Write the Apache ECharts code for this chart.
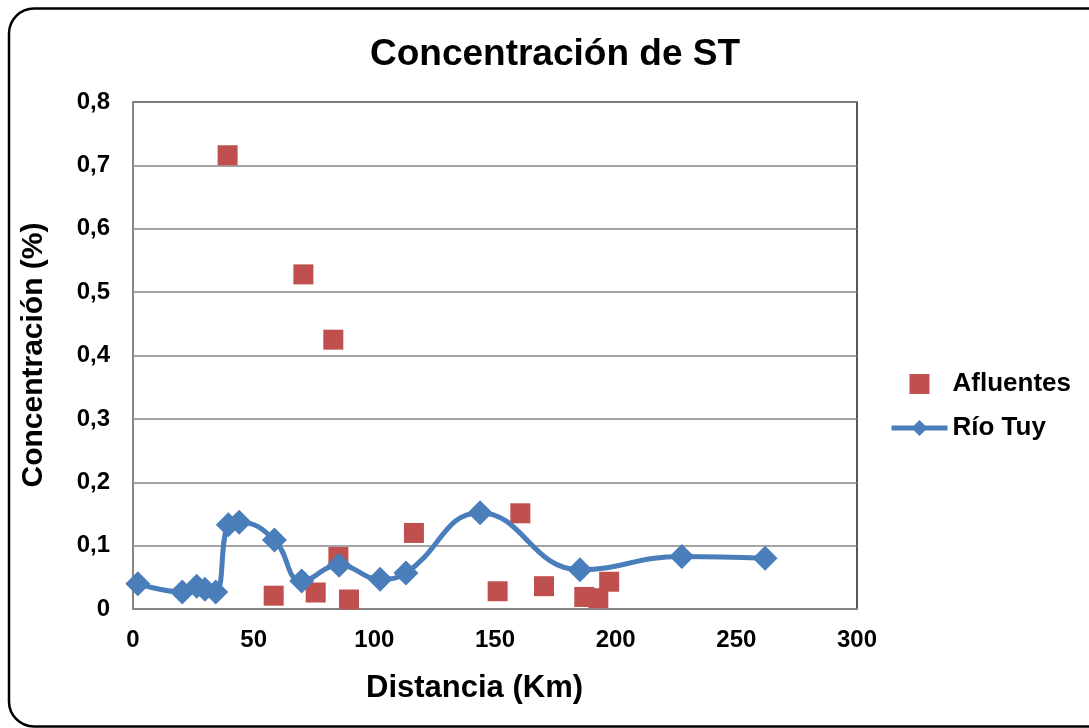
<!DOCTYPE html>
<html>
<head>
<meta charset="utf-8">
<script src="https://cdn.jsdelivr.net/npm/echarts@6/dist/echarts.min.js"></script>
<style>
  html, body { margin: 0; padding: 0; background: #fff; }
  #main { width: 1089px; height: 728px; }
</style>
</head>
<body>
<div id="main"></div>
<script>
// Río Tuy (main river) - distance in km, concentration in %
var tuyKm = [2, 20.4, 26.4, 29.8, 34.3, 39.5, 44, 58.6, 69.9, 85.4, 102.4, 113.1, 143.8, 185.2, 227.4, 261.9];
var tuyConc = [0.040, 0.027, 0.036, 0.031, 0.027, 0.133, 0.137, 0.109, 0.044, 0.069, 0.047, 0.057, 0.152, 0.062, 0.083, 0.080];

// tributaries
var aflKm = [39.2, 70.6, 83, 58.3, 75.7, 85.1, 89.5, 116.4, 151.1, 160.5, 170.3, 187, 192.8, 197.3];
var aflConc = [0.716, 0.528, 0.425, 0.021, 0.026, 0.082, 0.015, 0.120, 0.028, 0.151, 0.036, 0.019, 0.017, 0.043];

var yTicks = [0, 0.1, 0.2, 0.3, 0.4, 0.5, 0.6, 0.7, 0.8];

var myChart = echarts.init(document.getElementById('main'));
var font = '"Liberation Sans", Arial, sans-serif';

function pairs(xs, ys) {
  return xs.map(function (x, i) { return [x, ys[i]]; });
}

var option = {
  animation: false,
  backgroundColor: '#fff',
  title: {
    text: 'Concentración de ST',
    left: 550,
    top: 31,
    textAlign: 'center',
    textStyle: { fontFamily: font, fontSize: 37, fontWeight: 'bold', color: '#000' }
  },
  legend: {
    orient: 'vertical',
    left: 884,
    top: 366,
    itemWidth: 56,
    itemHeight: 20,
    itemGap: 18,
    textStyle: { fontFamily: font, fontSize: 26, fontWeight: 'bold', color: '#000' },
    data: [
      { name: 'Afluentes', icon: 'path://M0,0h10v10h-10z' },
      { name: 'Río Tuy', lineStyle: { width: 5 } }
    ]
  },
  grid: { left: 133, top: 102, right: 232, bottom: 119, show: true, borderColor: '#222', borderWidth: 1.5 },
  xAxis: {
    type: 'value',
    min: 0, max: 300, interval: 50,
    axisLine: { show: true, lineStyle: { color: '#868686', width: 2 } },
    axisTick: { show: false },
    splitLine: { show: false },
    axisLabel: { margin: 19, fontFamily: font, fontSize: 24, fontWeight: 'bold', color: '#000' }
  },
  yAxis: {
    type: 'value',
    min: 0, max: 0.8, interval: 0.1,
    axisLine: { show: true, lineStyle: { color: '#868686', width: 2 } },
    axisTick: { show: false },
    splitLine: { show: true, lineStyle: { color: '#868686', width: 1.5 } },
    axisLabel: {
      margin: 23, fontFamily: font, fontSize: 24, fontWeight: 'bold', color: '#000',
      formatter: function (v) {
        var t = yTicks.find(function (k) { return Math.abs(k - v) < 1e-9; });
        return t === 0 ? '0' : String(+v.toFixed(1)).replace('.', ',');
      }
    }
  },
  graphic: [
    {
      type: 'rect', silent: true, z: -1,
      shape: { x: 9, y: 8.5, width: 1120, height: 718, r: 25 },
      style: { fill: null, stroke: '#000', lineWidth: 2.5 }
    },
    {
      type: 'text', left: 366, top: 673,
      style: { text: 'Distancia (Km)', font: 'bold 31px ' + font, fill: '#000' }
    },
    {
      type: 'text', x: 34, y: 355, rotation: Math.PI / 2,
      style: { text: 'Concentración (%)', font: 'bold 30px ' + font, fill: '#000', align: 'center', verticalAlign: 'middle' }
    }
  ],
  series: [
    {
      name: 'Afluentes',
      type: 'scatter',
      symbol: 'rect',
      symbolSize: 20,
      itemStyle: { color: '#C0504D', opacity: 1 },
      data: pairs(aflKm, aflConc),
      z: 2
    },
    {
      name: 'Río Tuy',
      type: 'line',
      smooth: 0.45,
      symbol: 'diamond',
      symbolSize: 25,
      lineStyle: { color: '#4A7EBB', width: 5 },
      itemStyle: { color: '#4A7EBB' },
      data: pairs(tuyKm, tuyConc),
      z: 3
    }
  ]
};

myChart.setOption(option);
</script>
</body>
</html>
